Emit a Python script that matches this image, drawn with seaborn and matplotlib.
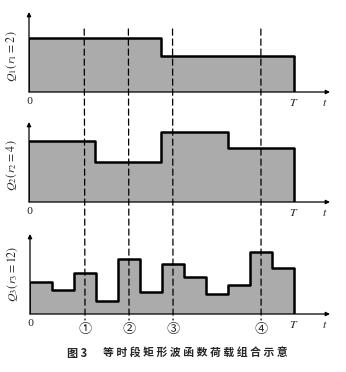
import numpy as np
import pandas as pd
import seaborn as sns
import matplotlib
matplotlib.use("Agg")
import matplotlib.pyplot as plt
from matplotlib.patches import ConnectionPatch

sns.set_theme(style="white")
plt.rcParams['font.family'] = ['Noto Sans CJK SC', 'DejaVu Sans']
plt.rcParams['mathtext.fontset'] = 'stix'

# ---- data ----
T = 12
q1_vals = [5.4, 5.4, 5.4, 5.4, 5.4, 5.4, 3.6, 3.6, 3.6, 3.6, 3.6, 3.6]
q2_vals = [6.1, 6.1, 6.1, 4.0, 4.0, 4.0, 7.0, 7.0, 7.0, 5.4, 5.4, 5.4]
q3_vals = [3.2, 2.4, 4.1, 1.3, 5.5, 2.2, 5.0, 3.7, 2.0, 2.9, 6.2, 4.6]
ylabels = [r"$Q_1(\,r_1=2\,)$", r"$Q_2(\,r_2=4\,)$", r"$Q_3(\,r_3=12)$"]
marks = [2.5, 4.5, 6.5, 10.5]
mark_labels = ["①", "②", "③", "④"]
caption_fig = "图 3"
caption_text = "等时段矩形波函数荷载组合示意"

W, H = 346, 372
fig = plt.figure(figsize=(W / 100, H / 100), dpi=100)

px_per_unit_x = 265 / T
xmax = (330 - 29) / px_per_unit_x
ymax = 8.0

# (left px, baseline px)
panels = [(29, 92), (29, 202), (30, 314)]
label_y = [3.6, 3.7, 4.0]
fill_col = "#ababab"
axes = []
for (lpx, bpx), vals, lab, ly in zip(panels, [q1_vals, q2_vals, q3_vals], ylabels, label_y):
    ax = fig.add_axes([lpx / W, (H - bpx) / H, (330 - lpx) / W, 80 / H])
    ax.set_xlim(0, xmax)
    ax.set_ylim(0, ymax)
    ax.axis("off")
    edges = np.arange(T + 1)
    yv = list(vals) + [vals[-1]]
    df = pd.DataFrame({"t": edges, "q": yv})
    ax.fill_between(df["t"], 0, df["q"], step="post", color=fill_col, lw=0, zorder=1)
    sns.lineplot(data=df, x="t", y="q", drawstyle="steps-post", color="black",
                 lw=1.8, ax=ax, zorder=3)
    ax.vlines(T, 0, vals[-1], color="black", lw=1.8, zorder=3)
    ax.vlines(0, 0, vals[0], color="black", lw=1.2, zorder=3)
    # axes arrows
    ax.annotate("", xy=(0, ymax), xytext=(0, 0),
                arrowprops=dict(arrowstyle="-|>", color="black", lw=0.9,
                                mutation_scale=6, shrinkA=0, shrinkB=0),
                annotation_clip=False)
    ax.annotate("", xy=(xmax, 0), xytext=(0, 0),
                arrowprops=dict(arrowstyle="-|>", color="black", lw=0.9,
                                mutation_scale=6, shrinkA=0, shrinkB=0),
                annotation_clip=False)
    ax.text(0, -0.55, "0", ha="center", va="top", fontsize=7,
            family="DejaVu Serif", clip_on=False)
    ax.text(T, -0.45, r"$T$", ha="center", va="top", fontsize=8.5, clip_on=False)
    ax.text(xmax - 0.25, -0.35, r"$t$", ha="center", va="top", fontsize=8.5, clip_on=False)
    ax.text(-0.8, ly, lab, rotation=90, ha="center", va="center", fontsize=8.5,
            clip_on=False)
    axes.append(ax)

# dashed guide lines through all panels
for m, ml in zip(marks, mark_labels):
    con = ConnectionPatch(xyA=(m, 6.3), coordsA=axes[0].transData,
                          xyB=(m, -0.6), coordsB=axes[2].transData,
                          color="black", lw=0.9, linestyle=(0, (5, 3)), zorder=5)
    fig.add_artist(con)
    axes[2].text(m, -0.85, ml, ha="center", va="top", fontsize=9.5,
                 family=['Noto Sans CJK SC', 'DejaVu Sans'], clip_on=False)

fig.text(67 / W, 1 - 353 / H, caption_fig, ha="left", va="center", fontsize=8,
         fontweight="bold", family=['Noto Sans CJK SC', 'DejaVu Sans'])
fig.text(103 / W, 1 - 353 / H, " ".join(caption_text), ha="left", va="center",
         fontsize=7.8, fontweight="bold",
         family=['Noto Sans CJK SC', 'DejaVu Sans'])

fig.savefig("out.png", dpi=100, facecolor="white")
